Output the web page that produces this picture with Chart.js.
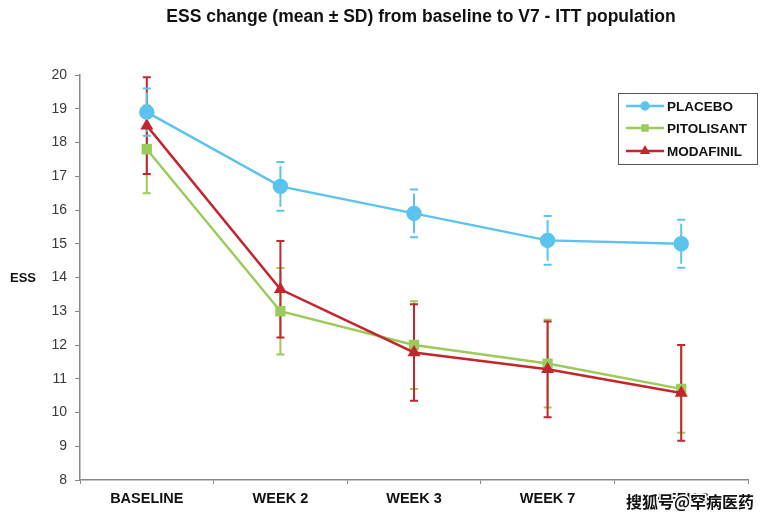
<!DOCTYPE html>
<html>
<head>
<meta charset="utf-8">
<script src="https://cdn.jsdelivr.net/npm/chart.js@4.4.1/dist/chart.umd.min.js"></script>
<style>
  html, body { margin: 0; padding: 0; background: #fff; }
  #wrap { width: 765px; height: 519px; position: relative; }
</style>
</head>
<body>
<div id="wrap"><canvas id="essChart"></canvas></div>
<script>
// data
const visits = ['BASELINE', 'WEEK 2', 'WEEK 3', 'WEEK 7', 'WEEK 8'];
const placeboMean = [18.9, 16.7, 15.9, 15.1, 15.0];
const placeboSd = [0.7, 0.72, 0.71, 0.72, 0.71];
const pitolisantMean = [17.8, 13.0, 12.0, 11.45, 10.7];
const pitolisantSd = [1.3, 1.28, 1.3, 1.3, 1.3];
const modafinilMean = [18.5, 13.65, 11.78, 11.28, 10.58];
const modafinilSd = [1.43, 1.43, 1.43, 1.42, 1.42];

const FONT = 'Arial, "Liberation Sans", sans-serif';

// error bars (mean +/- SD) drawn from the scales
const errorBars = {
    id: 'errorBars',
    beforeDatasetsDraw(chart) {
        const ctx = chart.ctx;
        const y = chart.scales.y;
        // bars of the top-most lines are drawn last
        const idx = chart.data.datasets.map((d, i) => i)
            .sort((a, b) => chart.data.datasets[b].order - chart.data.datasets[a].order);
        idx.forEach(i => {
            const ds = chart.data.datasets[i];
            const meta = chart.getDatasetMeta(i);
            ctx.save();
            ctx.strokeStyle = ds.borderColor;
            ctx.lineWidth = 2;
            meta.data.forEach((pt, j) => {
                const top = y.getPixelForValue(ds.data[j] + ds.sd[j]);
                const bot = y.getPixelForValue(ds.data[j] - ds.sd[j]);
                const gap = ds.capGap || 0;
                ctx.beginPath();
                ctx.moveTo(pt.x, top + gap);
                ctx.lineTo(pt.x, bot - gap);
                ctx.moveTo(pt.x - 4, top);
                ctx.lineTo(pt.x + 4, top);
                ctx.moveTo(pt.x - 4, bot);
                ctx.lineTo(pt.x + 4, bot);
                ctx.stroke();
            });
            ctx.restore();
        });
    }
};

// title, y label, legend box and watermark
const decorations = {
    id: 'decorations',
    afterDraw(chart) {
        const ctx = chart.ctx;
        ctx.save();
        ctx.fillStyle = '#111';
        ctx.textBaseline = 'middle';
        ctx.textAlign = 'center';
        ctx.font = 'bold 17.5px ' + FONT;
        ctx.fillText('ESS change (mean \u00B1 SD) from baseline to V7 - ITT population', 421, 17);
        ctx.font = 'bold 13px ' + FONT;
        ctx.fillText('ESS', 23, 278);

        // legend
        const lx = 618, ly = 93, lw = 139, lh = 71;
        ctx.strokeStyle = '#555';
        ctx.lineWidth = 1;
        ctx.strokeRect(lx + 0.5, ly + 0.5, lw, lh);
        const rows = [106, 128, 151];
        chart.data.datasets.forEach((ds, i) => {
            const ry = rows[i];
            ctx.strokeStyle = ds.borderColor;
            ctx.lineWidth = 2.5;
            ctx.beginPath();
            ctx.moveTo(626, ry);
            ctx.lineTo(664, ry);
            ctx.stroke();
            Chart.helpers.drawPoint(ctx, {
                pointStyle: ds.pointStyle, radius: 3.5, rotation: 0, borderWidth: 1
            }, 645, ry);
            ctx.fillStyle = ds.borderColor;
            ctx.fill();
            ctx.fillStyle = '#111';
            ctx.textAlign = 'left';
            ctx.font = 'bold 13.5px ' + FONT;
            ctx.fillText(ds.label, 667, ry + 1);
        });

        // watermark
        ctx.font = 'bold 16px "Noto Sans CJK SC", sans-serif';
        ctx.textAlign = 'left';
        ctx.lineWidth = 3;
        ctx.strokeStyle = '#fff';
        ctx.strokeText('搜狐号@罕病医药', 626, 502);
        ctx.fillStyle = '#111';
        ctx.fillText('搜狐号@罕病医药', 626, 502);
        ctx.restore();
    }
};

new Chart(document.getElementById('essChart'), {
    type: 'line',
    data: {
        labels: visits,
        datasets: [
            {
                label: 'PLACEBO',
                data: placeboMean,
                sd: placeboSd,
                capGap: 4,
                borderColor: '#5BC4EE',
                backgroundColor: '#5BC4EE',
                borderWidth: 2.5,
                pointStyle: 'circle',
                pointRadius: 6.5,
                order: 0
            },
            {
                label: 'PITOLISANT',
                data: pitolisantMean,
                sd: pitolisantSd,
                borderColor: '#9BCB5B',
                backgroundColor: '#9BCB5B',
                borderWidth: 2.5,
                pointStyle: 'rect',
                pointRadius: 5.5,
                order: 2
            },
            {
                label: 'MODAFINIL',
                data: modafinilMean,
                sd: modafinilSd,
                borderColor: '#C4262E',
                backgroundColor: '#C4262E',
                borderWidth: 2.5,
                pointStyle: 'triangle',
                pointRadius: 5,
                order: 1
            }
        ]
    },
    options: {
        responsive: true,
        maintainAspectRatio: false,
        animation: false,
        layout: { padding: { top: 75, right: 17, left: 0, bottom: 0 } },
        plugins: {
            legend: { display: false },
            tooltip: { enabled: false }
        },
        scales: {
            x: {
                offset: true,
                grid: {
                    offset: true,
                    drawOnChartArea: false,
                    drawTicks: true,
                    tickLength: 4,
                    color: '#888'
                },
                border: { color: '#888', width: 1.5 },
                ticks: {
                    color: '#111',
                    padding: 6,
                    font: { family: FONT, size: 14.5, weight: 'bold' }
                },
                afterFit(scale) { scale.height = 39; }
            },
            y: {
                min: 8,
                max: 20,
                ticks: {
                    stepSize: 1,
                    color: '#3a3a3a',
                    padding: 8,
                    font: { family: FONT, size: 14 }
                },
                grid: {
                    drawOnChartArea: false,
                    drawTicks: true,
                    tickLength: 5,
                    color: '#888'
                },
                border: { color: '#888', width: 1.5 },
                afterFit(scale) { scale.width = 80; }
            }
        }
    },
    plugins: [errorBars, decorations]
});
</script>
</body>
</html>
